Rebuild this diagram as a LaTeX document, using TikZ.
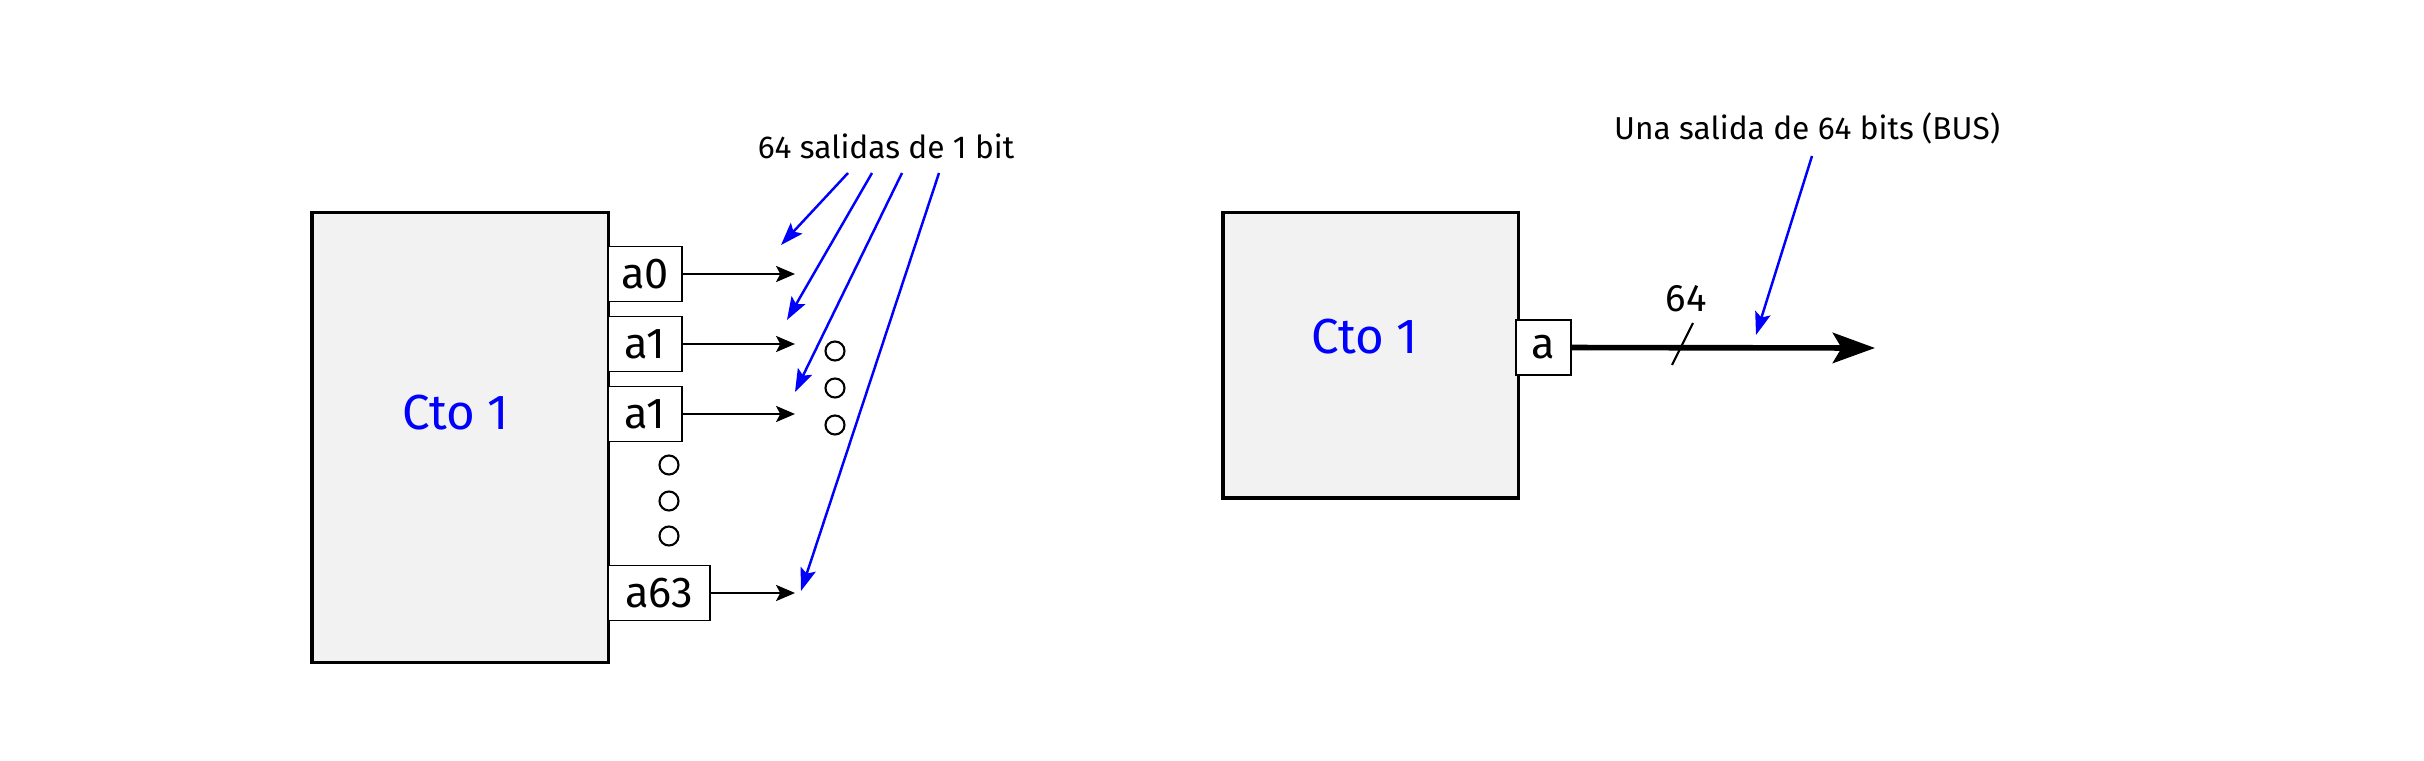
\documentclass[tikz,border=0pt]{standalone}
\usepackage{fontspec}
\setmainfont{Fira Sans}
\usetikzlibrary{arrows.meta}
\definecolor{boxgray}{HTML}{F2F2F2}
\definecolor{lblue}{HTML}{0000FF}
\begin{document}
\begin{tikzpicture}[x=0.01cm,y=-0.01cm,
  bigbox/.style={draw=black,line width=0.9pt,fill=boxgray,inner sep=0pt},
  outbox/.style={draw=black,line width=0.5pt,fill=white,inner sep=0pt,font=\fontsize{12.3}{14}\selectfont,anchor=west},
  title/.style={text=lblue,font=\fontsize{14}{16}\selectfont,inner sep=0pt,anchor=base},
  lab/.style={font=\fontsize{9.0}{11}\selectfont,inner sep=0pt,anchor=base},
  buslab/.style={font=\fontsize{10.9}{12}\selectfont,inner sep=0pt,anchor=base},
  bit/.style={-{Stealth[length=5.4pt,width=4.6pt,inset=1.2pt]},line width=0.6pt},
  note/.style={draw=lblue,-{Stealth[length=6.5pt,width=4.5pt,inset=1.3pt]},line width=0.7pt},
  bus/.style={-{Stealth[length=12pt,width=8.6pt,inset=2.5pt]},line width=1.6pt},
  dotc/.style={circle,draw,line width=0.6pt,minimum size=0.19cm,inner sep=0pt}]

\useasboundingbox (0,0) rectangle (2424,761);

% ---------- left diagram ----------
\node[bigbox,minimum width=2.96cm,minimum height=4.49cm] (L) at (460,437.5) {};
\node[title] (Lt) at (456,430) {Cto 1};

\node[outbox,minimum width=0.74cm,minimum height=0.55cm] (a0) at (607,274) {a0};
\node[outbox,minimum width=0.74cm,minimum height=0.55cm] (a1) at (607,344) {a1};
\node[outbox,minimum width=0.74cm,minimum height=0.55cm] (a2) at (607,414) {a1};
\node[outbox,minimum width=1.02cm,minimum height=0.55cm] (a63) at (607,593) {a63};

\coordinate (e0) at (795,274);
\coordinate (e1) at (795,344);
\coordinate (e2) at (795,414);
\coordinate (e63) at (795,593);
\draw[bit] (a0) -- (e0);
\draw[bit] (a1) -- (e1);
\draw[bit] (a2) -- (e2);
\draw[bit] (a63) -- (e63);

\node[dotc] (d1) at (669,465) {};
\node[dotc] (d2) at (669,501) {};
\node[dotc] (d3) at (669,536) {};
\node[dotc] (d4) at (835,351) {};
\node[dotc] (d5) at (835,388) {};
\node[dotc] (d6) at (835,425) {};

\node[lab] (lbl1) at (886,159) {64 salidas de 1 bit};
\coordinate (s1) at (848,173);
\coordinate (s2) at (872,173);
\coordinate (s3) at (902,173);
\coordinate (s4) at (939,173);
\coordinate (t1) at (781,245);
\coordinate (t2) at (787,320);
\coordinate (t3) at (795,392);
\coordinate (t4) at (801,591);
\draw[note] (s1) -- (t1);
\draw[note] (s2) -- (t2);
\draw[note] (s3) -- (t3);
\draw[note] (s4) -- (t4);

% ---------- right diagram ----------
\node[bigbox,minimum width=2.95cm,minimum height=2.85cm] (R) at (1370.5,355.5) {};
\node[title] (Rt) at (1365,353.5) {Cto 1};
\node[outbox,minimum width=0.55cm,minimum height=0.55cm] (ab) at (1515,347.5) {a};

\coordinate (bt) at (1875,348);
\draw[bus] (ab) -- (bt);
\coordinate (sl1) at (1672,365);
\coordinate (sl2) at (1693,323);
\draw[line width=0.6pt] (sl1) -- (sl2);
\node[buslab] (n64) at (1686,312) {64};

\node[lab] (lbl2) at (1807,140) {Una salida de 64 bits (BUS)};
\coordinate (ns) at (1812,156);
\coordinate (nt) at (1756,335);
\draw[note] (ns) -- (nt);
\end{tikzpicture}
\end{document}
